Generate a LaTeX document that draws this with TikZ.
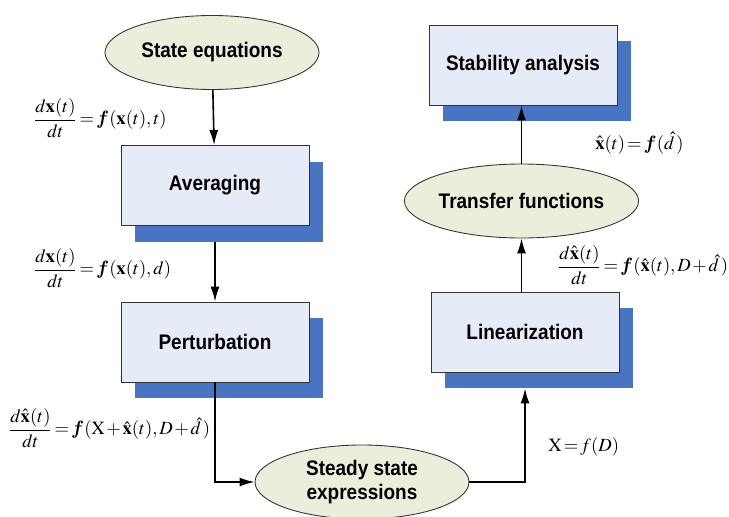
\documentclass[tikz,border=0pt]{standalone}
\usepackage{amsmath,bm}
\usepackage{mathptmx}
\usepackage[no-math]{fontspec}
\setsansfont{Liberation Sans}[FakeStretch=0.9]
\usetikzlibrary{shapes.geometric,shadows,arrows.meta}
\definecolor{boxfill}{HTML}{E6ECF7}
\definecolor{ovalfill}{HTML}{EBEEDB}
\definecolor{shadowblue}{HTML}{4874C2}
\newcommand{\tplus}{\mkern1.5mu{+}\mkern1.5mu}
\begin{document}
\begin{tikzpicture}[font=\sffamily\bfseries\fontsize{12}{14}\selectfont, >={Latex[length=0.3cm,width=0.18cm]},
          blk/.style={rectangle, fill=boxfill, draw=black!80, line width=0.5pt,
            minimum width=3.76cm, minimum height=1.6cm,
            general shadow={fill=shadowblue, shadow xshift=0.28cm, shadow yshift=-0.32cm}},
          oval/.style={ellipse, fill=ovalfill, draw=black!80, line width=0.5pt, inner sep=0pt, align=center,
            minimum width=4.28cm, minimum height=1.48cm},
          eqn/.style={anchor=west, font=\fontsize{10.6}{13}\selectfont, inner sep=0pt},
          flow/.style={->, line width=0.9pt}]
        \useasboundingbox (0,0) rectangle (14.58,10.32);
        % left column: model derivation
        \node[oval] (steq) at (4.24,9.27) {State equations};
        \node[blk] (avg) at (4.30,6.61) {Averaging};
        \node[blk] (pert) at (4.30,3.48) {Perturbation};
        % bottom and right column
        \node[oval] (ss) at (7.24,0.68) {Steady state\\expressions};
        \node[blk] (lin) at (10.50,3.68) {Linearization};
        \node[oval] (tf) at (10.43,6.30) {Transfer functions};
        \node[blk] (stab) at (10.46,9.02) {Stability analysis};
        % connectors (shortened where they meet a shadow)
        \draw[flow] (steq) -- (avg);
        \draw[flow, shorten <=0.32cm] (avg) -- (pert);
        \draw[flow] (pert.south) |- (ss.west);
        \draw[flow, shorten >=0.32cm] (ss.east) -| (lin.south);
        \draw[flow] (lin.north -| tf) -- (tf);
        \draw[flow] (tf) -- (stab.south -| tf);
        % equations
        \node[eqn] (eqa) at (0.66,7.96) {$\dfrac{d\mathbf{x}(t)}{dt}\!=\!\bm{f}(\mathbf{x}(t),t)$};
        \node[eqn] (eqb) at (0.66,4.96) {$\dfrac{d\mathbf{x}(t)}{dt}\!=\!\bm{f}(\mathbf{x}(t),d)$};
        \node[eqn] (eqc) at (0.16,1.76) {$\dfrac{d\hat{\mathbf{x}}(t)}{dt}\!=\!\bm{f}(\mathrm{X}\tplus\hat{\mathbf{x}}(t),D\tplus\hat{d}\,)$};
        \node[eqn] (eqd) at (11.90,7.46) {$\hat{\mathbf{x}}(t)\!=\!\bm{f}(\hat{d}\,)$};
        \node[eqn] (eqe) at (11.14,5.02) {$\dfrac{d\hat{\mathbf{x}}(t)}{dt}\!=\!\bm{f}(\hat{\mathbf{x}}(t),D\tplus\hat{d}\,)$};
        \node[eqn] (eqf) at (10.96,1.38) {$\mathrm{X}\!=\!f(D)$};
      \end{tikzpicture}
\end{document}
